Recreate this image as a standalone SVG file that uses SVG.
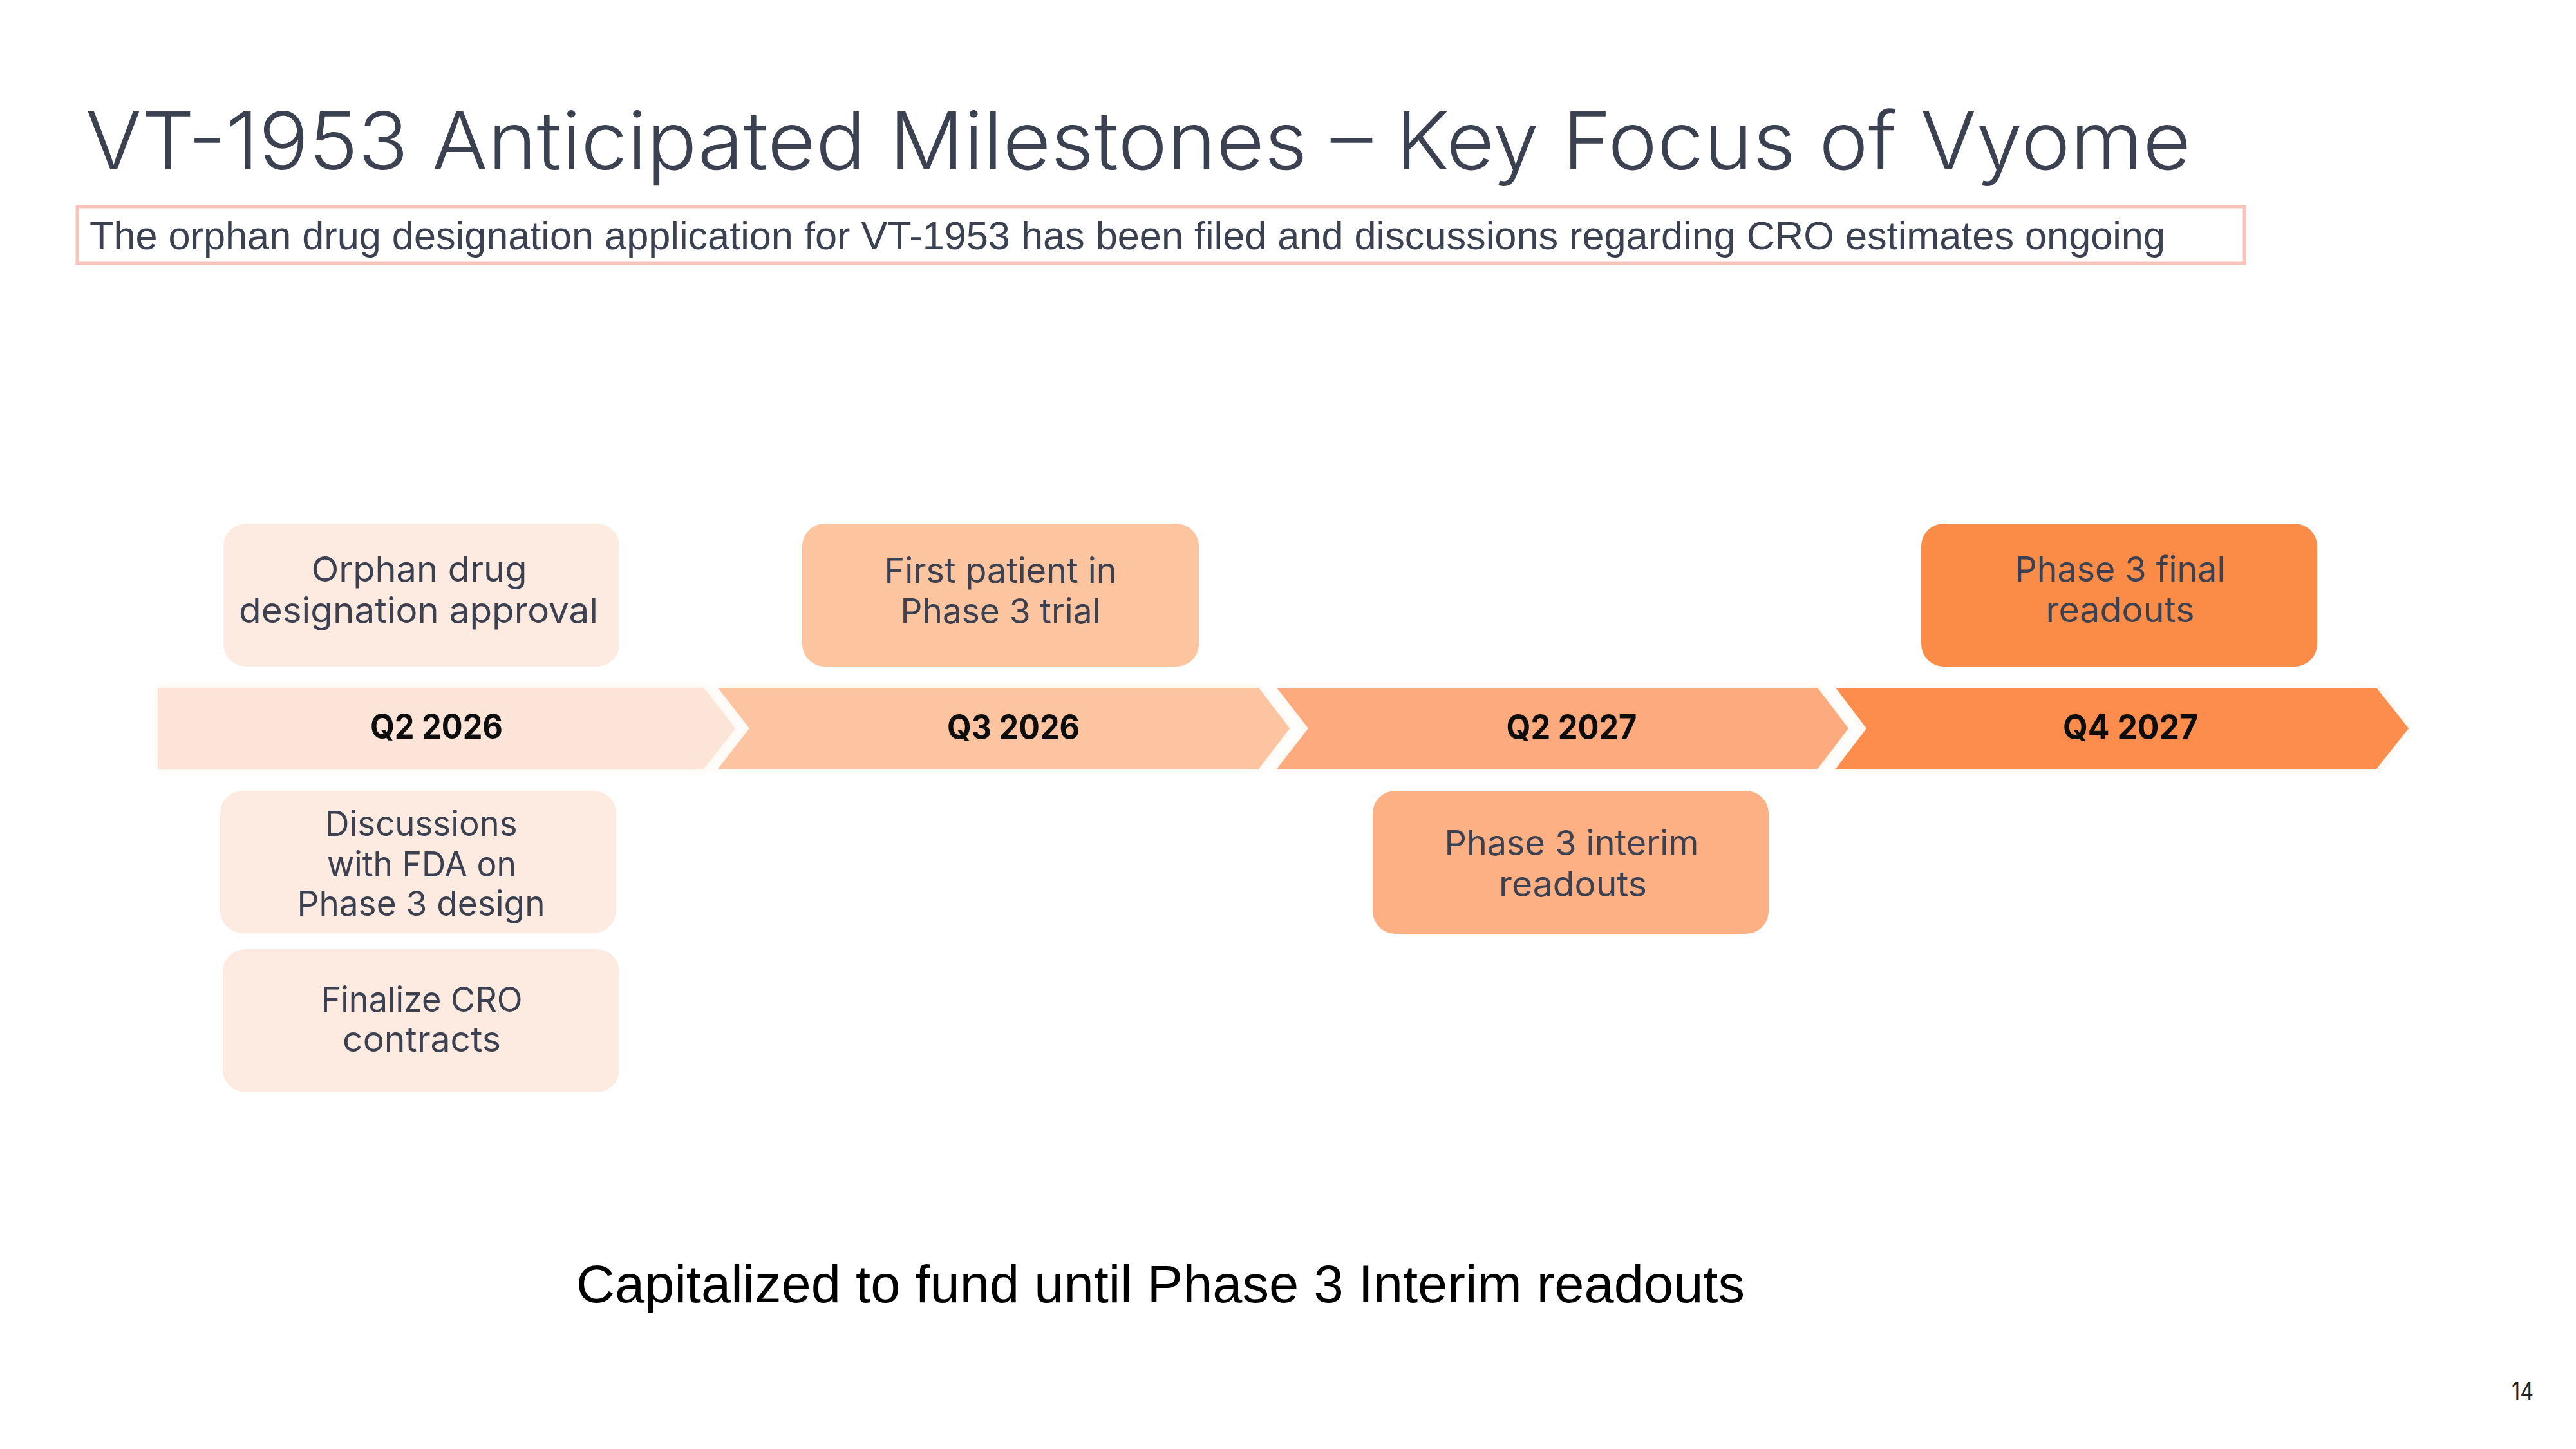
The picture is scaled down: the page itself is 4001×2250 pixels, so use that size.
<svg xmlns="http://www.w3.org/2000/svg" width="4001" height="2250" viewBox="0 0 4001 2250">
<defs>
<style>
.title{font-family:Inter,"Noto Sans",sans-serif;font-weight:300;font-size:124px;fill:#3b4150}
.sub{font-family:"Liberation Sans",Arial,sans-serif;font-size:61px;fill:#3b4150}
.lbl{font-family:Inter,"Noto Sans",sans-serif;font-size:54px;fill:#3b4150;text-anchor:middle}
.q{font-family:Inter,"Noto Sans",sans-serif;font-weight:700;font-size:53px;fill:#111111;text-anchor:middle}
.foot{font-family:"Liberation Sans",Arial,sans-serif;font-size:82px;fill:#000000}
.pg{font-family:Inter,"Noto Sans",sans-serif;font-size:38px;fill:#222222}
</style>
<filter id="glow" x="-5%" y="-30%" width="110%" height="160%">
<feDropShadow dx="0" dy="0" stdDeviation="7" flood-color="#f3d6a8" flood-opacity="0.35"/>
</filter>
</defs>
<rect width="4001" height="2250" fill="#ffffff"/>
<text class="title" x="133" y="263" textLength="3270" lengthAdjust="spacingAndGlyphs">VT-1953 Anticipated Milestones – Key Focus of Vyome</text>
<rect x="120" y="321" width="3366" height="88" fill="none" stroke="#fbc4ba" stroke-width="5"/>
<text class="sub" x="139" y="387" textLength="3224" lengthAdjust="spacingAndGlyphs">The orphan drug designation application for VT-1953 has been filed and discussions regarding CRO estimates ongoing</text>

<g id="timeline" filter="url(#glow)">
<g id="q2-2026">
<path d="M245,1068 H1093 L1142,1131 L1093,1194 H245 Z" fill="#fde4d8"/>
<text class="q" x="678" y="1147" textLength="206" lengthAdjust="spacingAndGlyphs">Q2 2026</text>
</g>
<g id="q3-2026">
<path d="M1115,1068 H1955 L2003,1131 L1955,1194 H1115 L1164,1131 Z" fill="#fcc4a1"/>
<text class="q" x="1574" y="1148" textLength="206" lengthAdjust="spacingAndGlyphs">Q3 2026</text>
</g>
<g id="q2-2027">
<path d="M1983,1068 H2823 L2871,1131 L2823,1194 H1983 L2032,1131 Z" fill="#fdab7e"/>
<text class="q" x="2441" y="1148" textLength="203" lengthAdjust="spacingAndGlyphs">Q2 2027</text>
</g>
<g id="q4-2027">
<path d="M2851,1068 H3691 L3741,1131 L3691,1194 H2851 L2899,1131 Z" fill="#fd8d4e"/>
<text class="q" x="3309" y="1148" textLength="210" lengthAdjust="spacingAndGlyphs">Q4 2027</text>
</g>
</g>

<g id="orphan-approval">
<rect x="347" y="813" width="615" height="222" rx="35" fill="#fdeae0"/>
<text class="lbl" x="651" y="903" textLength="335" lengthAdjust="spacingAndGlyphs">Orphan drug</text>
<text class="lbl" x="650" y="967" textLength="558" lengthAdjust="spacingAndGlyphs">designation approval</text>
</g>
<g id="first-patient">
<rect x="1246" y="813" width="616" height="222" rx="35" fill="#fdc4a0"/>
<text class="lbl" x="1554" y="905" textLength="361" lengthAdjust="spacingAndGlyphs">First patient in</text>
<text class="lbl" x="1554" y="968" textLength="311" lengthAdjust="spacingAndGlyphs">Phase 3 trial</text>
</g>
<g id="final-readouts">
<rect x="2984" y="813" width="615" height="222" rx="35" fill="#fb8c48"/>
<text class="lbl" x="3293" y="903" textLength="327" lengthAdjust="spacingAndGlyphs">Phase 3 final</text>
<text class="lbl" x="3293" y="966" textLength="231" lengthAdjust="spacingAndGlyphs">readouts</text>
</g>
<g id="fda-discussions">
<rect x="342" y="1228" width="615" height="221" rx="35" fill="#fdeae0"/>
<text class="lbl" x="654" y="1298" textLength="299" lengthAdjust="spacingAndGlyphs">Discussions</text>
<text class="lbl" x="655" y="1361" textLength="294" lengthAdjust="spacingAndGlyphs">with FDA on</text>
<text class="lbl" x="654" y="1422" textLength="385" lengthAdjust="spacingAndGlyphs">Phase 3 design</text>
</g>
<g id="cro-contracts">
<rect x="346" y="1474" width="616" height="222" rx="35" fill="#fdeae0"/>
<text class="lbl" x="655" y="1571" textLength="313" lengthAdjust="spacingAndGlyphs">Finalize CRO</text>
<text class="lbl" x="655" y="1633" textLength="246" lengthAdjust="spacingAndGlyphs">contracts</text>
</g>
<g id="interim-readouts">
<rect x="2132" y="1228" width="615" height="222" rx="35" fill="#fdb083"/>
<text class="lbl" x="2441" y="1328" textLength="395" lengthAdjust="spacingAndGlyphs">Phase 3 interim</text>
<text class="lbl" x="2443" y="1392" textLength="230" lengthAdjust="spacingAndGlyphs">readouts</text>
</g>
<g id="connectors"></g>

<text class="foot" x="895" y="2022" textLength="1815" lengthAdjust="spacingAndGlyphs">Capitalized to fund until Phase 3 Interim readouts</text>
<text class="pg" x="3901" y="2174" textLength="34" lengthAdjust="spacingAndGlyphs">14</text>
</svg>
